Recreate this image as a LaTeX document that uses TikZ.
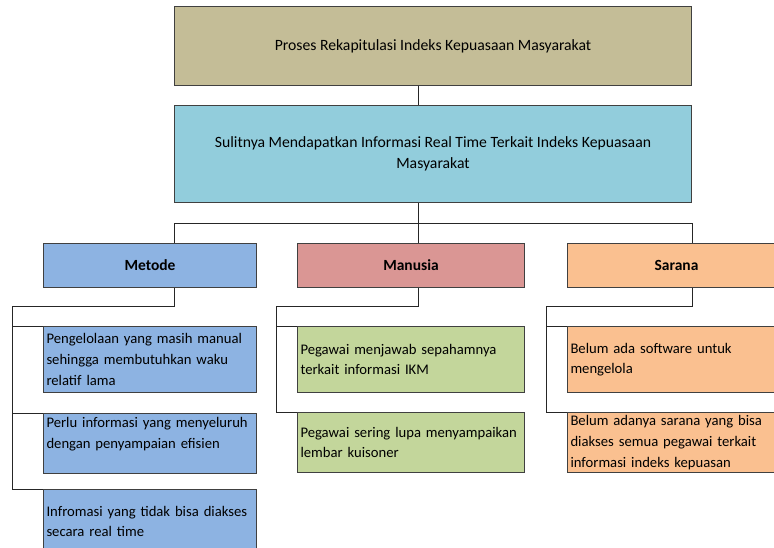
\documentclass[tikz,border=0pt]{standalone}
\usepackage{fontspec}
\setmainfont{Carlito}
\definecolor{khaki}{HTML}{C4BD97}
\definecolor{skyblue}{HTML}{92CDDC}
\definecolor{steel}{HTML}{8DB3E2}
\definecolor{rose}{HTML}{DA9694}
\definecolor{leaf}{HTML}{C3D69B}
\definecolor{peach}{HTML}{FAC090}
\definecolor{boxline}{HTML}{404040}
\definecolor{linecol}{HTML}{262626}

\begin{document}
\begin{tikzpicture}[x=1pt,y=-1pt,
        box/.style={draw=boxline,line width=1pt,anchor=north west,inner sep=0pt,
            font=\fontsize{14.67}{20.6}\selectfont},
        top/.style={box,font=\fontsize{15.7}{21}\selectfont,minimum width=517pt},
        head/.style={box,font=\fontsize{15.5}{20.6}\selectfont\bfseries,minimum height=44pt},
        cause/.style={box,align=left,inner xsep=3pt},
        link/.style={draw=linecol,line width=1pt}]
    \useasboundingbox (0,0) rectangle (774,548);
    % problem and its root
    \node[top,fill=khaki,minimum height=79pt] (proses) at (174,6)
        {Proses Rekapitulasi Indeks Kepuasaan Masyarakat};
    \node[top,fill=skyblue,minimum height=97pt,align=center] (sulit) at (174,105)
        {Sulitnya Mendapatkan Informasi Real Time Terkait Indeks Kepuasaan\\Masyarakat};
    % categories
    \node[head,fill=steel,minimum width=213pt] (metode) at (43,243) {Metode};
    \node[head,fill=rose,minimum width=227pt] (manusia) at (297,243) {Manusia};
    \node[head,fill=peach,minimum width=218pt] (sarana) at (567,243) {Sarana};
    % causes
    \node[cause,fill=steel,text width=207pt,minimum height=66pt] (m1) at (43,326)
        {Pengelolaan yang masih manual\\sehingga membutuhkan waku\\relatif lama};
    \node[cause,fill=steel,text width=207pt,minimum height=60pt] (m2) at (43,413)
        {Perlu informasi yang menyeluruh\\dengan penyampaian efisien\\\mbox{}};
    \node[cause,fill=steel,text width=207pt,minimum height=64pt] (m3) at (43,489)
        {Infromasi yang tidak bisa diakses\\secara real time};
    \node[cause,fill=leaf,text width=221pt,minimum height=66pt] (p1) at (297,326)
        {Pegawai menjawab sepahamnya\\terkait informasi IKM};
    \node[cause,fill=leaf,text width=221pt,minimum height=60pt] (p2) at (297,412)
        {Pegawai sering lupa menyampaikan\\lembar kuisoner};
    \node[cause,fill=peach,text width=212pt,minimum height=66pt] (s1) at (567,326)
        {Belum ada software untuk\\mengelola};
    \node[cause,fill=peach,text width=212pt,minimum height=60pt] (s2) at (567,412)
        {Belum adanya sarana yang bisa\\diakses semua pegawai terkait\\informasi indeks kepuasan};

    \coordinate (trunk) at (418,0);
    \coordinate (mspine) at (12,0);
    \coordinate (pspine) at (276,0);
    \coordinate (sspine) at (546,0);

    \draw[link] (trunk |- proses.south) -- (trunk |- sulit.north);
    \draw[link] (trunk |- sulit.south) -- ++(0,21) coordinate (bus);
    \draw[link] (sulit.south west |- metode.north) -- (sulit.south west |- bus)
        -- (sulit.south east |- bus) -- (sulit.south east |- sarana.north);
    \draw[link] (bus) -- (bus |- manusia.north);

    \draw[link] (sulit.south west |- metode.south) -- ++(0,18) -| (mspine |- m3.north) -- (m3.north west);
    \draw[link] (mspine |- m1.north) -- (m1.north west);
    \draw[link] (mspine |- m2.north) -- (m2.north west);
    \draw[link] (bus |- manusia.south) -- ++(0,18) -| (pspine |- p2.north) -- (p2.north west);
    \draw[link] (pspine |- p1.north) -- (p1.north west);
    \draw[link] (sulit.south east |- sarana.south) -- ++(0,18) -| (sspine |- s2.north) -- (s2.north west);
    \draw[link] (sspine |- s1.north) -- (s1.north west);
\end{tikzpicture}
\end{document}
